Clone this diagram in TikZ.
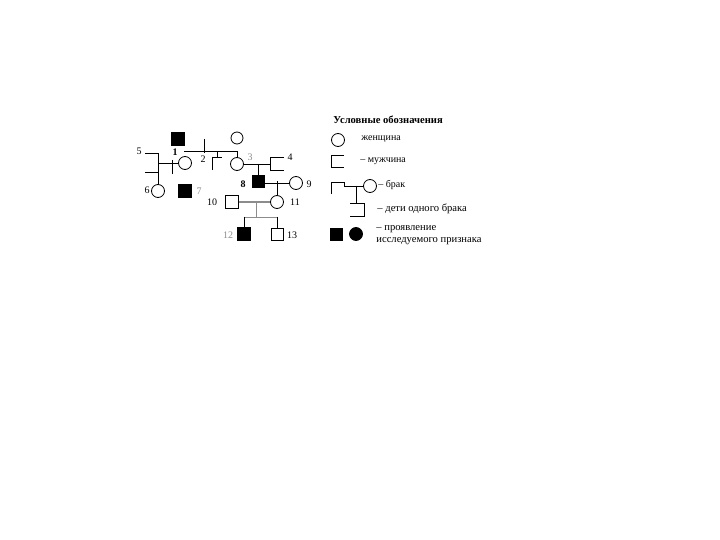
\documentclass[tikz,border=0pt]{standalone}
\usepackage{fontspec}
\setmainfont{Liberation Serif}
\begin{document}
\begin{tikzpicture}[x=1pt,y=-1pt,line width=0.8pt,
  female/.style={draw,circle,minimum size=13pt,inner sep=0pt},
  male/.style={draw,rectangle,minimum size=13pt,inner sep=0pt},
  ill/.style={fill=black},
  num/.style={font=\fontsize{10}{12}\selectfont,inner sep=0pt},
  faint/.style={text=black!45},
  grayline/.style={draw=black!45,line width=1.2pt},
  legend/.style={font=\fontsize{10}{12}\selectfont,inner sep=0pt,anchor=west},
  legendw/.style={legend,font=\fontsize{10.6}{12}\selectfont}]
\useasboundingbox (0,0) rectangle (720,540);

% generation I
\node[male,ill] (i1) at (178,139) {};
\node[female,minimum size=12pt] (i2) at (237,138) {};
\coordinate (m1a) at (184,151);
\coordinate (m1b) at (237,151);
\coordinate (m1c) at (204,139);
\coordinate (m1d) at (204,153);
\draw (m1a) -- (m1b);
\draw (m1c) -- (m1d);
\node[num] (l2) at (203,159) {2};
% brother of 3
\coordinate (b3) at (217,151);
\draw (b3) -- ++(0,6) -- ++(5,0) ++(-10,0) -- ++(5,0) ++(-5,0) -- ++(0,13);

% generation II
\node[female] (p3) at (237,164) {};
\node[num,faint] (l3) at (250,157) {3};
\draw (m1b) -- (p3);
\coordinate (p4) at (270,164);
\draw (284,157) -- (270,157) -- (270,170) -- (284,170);
\node[num] (l4) at (290,157) {4};
\draw (p3) -- (p4);
\node[male,ill,minimum size=12.5pt] (p8) at (258.5,181.5) {};
\node[num,font=\bfseries\fontsize{10}{12}\selectfont] (l8) at (243,184) {8};
\draw (p3 -| p8) -- (p8);
\node[female] (p9) at (296,183) {};
\node[num] (l9) at (309,184) {9};
\draw (p8.east |- p9) -- (p9);

% left family
\coordinate (p5) at (158,163);
\draw (145,153) -- (158,153) -- (158,172) -- (145,172);
\node[num] (l5) at (139,151) {5};
\node[female] (p1) at (185,163) {};
\node[num,font=\bfseries\fontsize{10}{12}\selectfont] (l1) at (175,152) {1};
\draw (p5) -- (p1);
\coordinate (d1a) at (172,160);
\coordinate (d1b) at (172,174);
\draw (d1a) -- (d1b);
\node[female] (p6) at (158,191) {};
\node[num] (l6) at (147,190) {6};
\draw (158,172) -- (p6);
\node[male,ill] (p7) at (185,191) {};
\node[num,faint] (l7) at (199,191) {7};

% generation III and IV
\node[female] (p11) at (277,202) {};
\node[num] (l11) at (295,202) {11};
\draw (p8 -| p11) -- (p11);
\node[male] (p10) at (232,202) {};
\node[num] (l10) at (212,202) {10};
\draw[grayline] (p10) -- (p11);
\coordinate (s1) at (256,202);
\coordinate (s2) at (256,217);
\draw[grayline,line width=0.8pt] (s1) -- (s2);
\node[male,ill] (p12) at (244,234) {};
\node[num,faint] (l12) at (228,235) {12};
\node[male,minimum size=12pt] (p13) at (277,234) {};
\node[num] (l13) at (292,235) {13};
\draw[grayline,line width=0.8pt] (p12 |- s2) -- (p13 |- s2);
\draw (p12 |- s2) -- (p12);
\draw (p13 |- s2) -- (p13);

% legend
\node[font=\bfseries\fontsize{10.6}{12}\selectfont,inner sep=0pt,anchor=west] (title) at (333,120) {Условные обозначения};
\node[female] (lf) at (338,140) {};
\node[legend] (tf) at (361,139) {женщина};
\draw (344,155) -- (331,155) -- (331,167) -- (344,167);
\node[legend] (tm) at (360,161) {– мужчина};
\coordinate (lm) at (344,186);
\draw (331,194) -- (331,182) -- (344,182) -- (344,186);
\node[female] (lw) at (370,186) {};
\draw (lm) -- (lw);
\node[legend] (tb) at (378,185) {– брак};
\coordinate (lc1) at (356,186);
\coordinate (lc2) at (356,203);
\draw (lc1) -- (lc2) -- (364,203) -- (364,216) -- (350,216);
\draw (350,203) -- (356,203);
\node[legendw] (tc) at (377,209) {– дети одного брака};
\node[male,ill,minimum size=12pt] (la) at (336,234) {};
\node[female,ill] (lb) at (356,234) {};
\node[legendw] (ta) at (376,229) {– проявление};
\node[legendw] (ta2) at (376,241) {исследуемого признака};
\end{tikzpicture}
\end{document}
